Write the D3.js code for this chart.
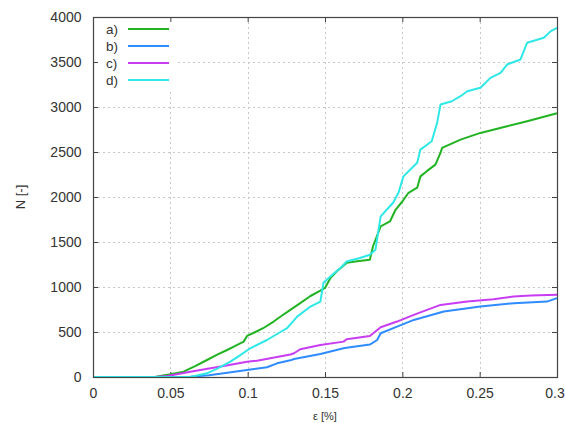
<!DOCTYPE html>
<html><head><meta charset="utf-8">
<script src="https://cdn.jsdelivr.net/npm/d3@7"></script>
<style>body{margin:0;background:#fff}svg{display:block}text{font-family:"Liberation Sans",Arial,sans-serif;fill:#333}</style>
</head><body><svg id="c" width="565" height="423"></svg>
<script>
const xTicks = [0, 0.05, 0.1, 0.15, 0.2, 0.25, 0.3];
const xTickLabels = ["0", "0.05", "0.1", "0.15", "0.2", "0.25", "0.3"];
const yTicks = [0, 500, 1000, 1500, 2000, 2500, 3000, 3500, 4000];
const seriesNames = ["a)", "b)", "c)", "d)"];
const seriesColors = ["#22b322", "#2e8cff", "#c83cf2", "#2ee8e8"];

const epsA = [0, 0.04, 0.0435, 0.05, 0.0586, 0.066, 0.0737, 0.08, 0.0867, 0.092, 0.0974, 0.0996, 0.105, 0.110, 0.1168, 0.122, 0.1276, 0.134, 0.1406, 0.147, 0.150, 0.1535, 0.158, 0.164, 0.172, 0.179, 0.181, 0.186, 0.192, 0.1956, 0.2, 0.204, 0.2096, 0.2117, 0.216, 0.2214, 0.2247, 0.2257, 0.2376, 0.2505, 0.2677, 0.2807, 0.297, 0.3];
const nA = [0, 0, 11, 30, 59, 120, 189, 245, 300, 345, 393, 456, 500, 542, 616, 680, 746, 820, 900, 960, 990, 1100, 1180, 1268, 1290, 1302, 1450, 1673, 1728, 1858, 1950, 2047, 2103, 2229, 2290, 2360, 2493, 2545, 2638, 2712, 2786, 2842, 2916, 2930];

const epsB = [0, 0.05, 0.063, 0.075, 0.0845, 0.0996, 0.1125, 0.119, 0.1276, 0.13, 0.147, 0.162, 0.164, 0.179, 0.1837, 0.186, 0.1966, 0.2074, 0.2268, 0.2505, 0.272, 0.2936, 0.3];
const nB = [0, 0, 3, 20, 41, 78, 108, 152, 185, 200, 255, 319, 325, 360, 411, 486, 560, 634, 727, 783, 820, 838, 876];

const epsC = [0, 0.04, 0.048, 0.063, 0.075, 0.0845, 0.0996, 0.106, 0.1147, 0.1276, 0.13, 0.134, 0.147, 0.162, 0.164, 0.179, 0.186, 0.1966, 0.2074, 0.216, 0.2247, 0.242, 0.259, 0.272, 0.283, 0.3];
const nC = [0, 0, 11, 59, 95, 122, 170, 181, 208, 250, 264, 308, 356, 393, 420, 456, 553, 616, 690, 746, 801, 838, 865, 894, 905, 913];

const epsD = [0, 0.05, 0.063, 0.0737, 0.08, 0.0888, 0.095, 0.1017, 0.1125, 0.1212, 0.1255, 0.132, 0.1406, 0.147, 0.149, 0.1535, 0.161, 0.164, 0.172, 0.179, 0.1826, 0.186, 0.194, 0.1975, 0.2007, 0.2096, 0.2117, 0.219, 0.2225, 0.2247, 0.232, 0.2376, 0.242, 0.2505, 0.257, 0.2635, 0.2677, 0.2764, 0.2807, 0.2915, 0.296, 0.3];
const nD = [0, 0, 0, 41, 90, 170, 240, 319, 411, 500, 542, 671, 783, 838, 1046, 1117, 1228, 1283, 1320, 1358, 1413, 1784, 1936, 2047, 2229, 2380, 2527, 2619, 2826, 3027, 3064, 3120, 3175, 3213, 3324, 3380, 3472, 3528, 3714, 3770, 3843, 3880];

const series = [[epsA, nA], [epsB, nB], [epsC, nC], [epsD, nD]].map((s, i) => ({
  name: seriesNames[i], color: seriesColors[i], pts: s[0].map((x, j) => [x, s[1][j]])
}));

const L = 93, R = 557, T = 17, B = 377;
const svg = d3.select("#c");
const x = d3.scaleLinear().domain([0, 0.3]).range([L, R]);
const y = d3.scaleLinear().domain([0, 4000]).range([B, T]);

// grid
const g = svg.append("g").attr("stroke", "#c8c8c8").attr("stroke-width", 1).attr("stroke-dasharray", "2,3");
g.selectAll("line.gx").data(xTicks.slice(1, -1)).join("line")
  .attr("x1", d => Math.round(x(d)) + 0.5).attr("x2", d => Math.round(x(d)) + 0.5).attr("y1", T).attr("y2", B);
g.selectAll("line.gy").data(yTicks.slice(1, -1)).join("line")
  .attr("y1", d => Math.round(y(d)) + 0.5).attr("y2", d => Math.round(y(d)) + 0.5).attr("x1", L).attr("x2", R);

// legend background
svg.append("rect").attr("x", L + 1).attr("y", T + 1).attr("width", 82).attr("height", 72).attr("fill", "#fff");

// axes
const xa = d3.axisBottom(x).tickValues(xTicks).tickFormat((d, i) => xTickLabels[i]).tickSize(-5).tickPadding(11);
const xt = d3.axisTop(x).tickValues(xTicks).tickFormat("").tickSize(-5);
const ya = d3.axisLeft(y).tickValues(yTicks).tickFormat(d3.format("d")).tickSize(-5).tickPadding(11.5);
const yr = d3.axisRight(y).tickValues(yTicks).tickFormat("").tickSize(-5);
function style(sel) {
  sel.select(".domain").remove();
  sel.selectAll("line").attr("stroke", "#444");
  sel.selectAll("text").attr("font-size", 14).attr("fill", "#444").attr("font-family", "'Liberation Sans', Arial, sans-serif");
}
const xAxisG = svg.append("g").attr("transform", `translate(0,${B})`).call(xa).call(style);
// keep the last label inside the page edge
xAxisG.selectAll(".tick text").filter(d => d === 0.3).attr("dx", -2.5);
svg.append("g").attr("transform", `translate(0,${T})`).call(xt).call(style);
svg.append("g").attr("transform", `translate(${L},0)`).call(ya).call(style);
svg.append("g").attr("transform", `translate(${R},0)`).call(yr).call(style);

// lines
const line = d3.line().x(d => x(d[0])).y(d => y(d[1]));
svg.append("g").selectAll("path").data(series).join("path")
  .attr("d", d => line(d.pts)).attr("fill", "none").attr("stroke", d => d.color)
  .attr("stroke-width", 2).attr("stroke-linejoin", "round");

// border
svg.append("rect").attr("x", L + 0.5).attr("y", T + 0.5).attr("width", R - L).attr("height", B - T)
  .attr("fill", "none").attr("stroke", "#444").attr("stroke-width", 1.2);

// legend
const lg = svg.append("g").selectAll("g").data(series).join("g")
  .attr("transform", (d, i) => `translate(0,${29 + i * 17})`);
lg.append("text").attr("x", 106).attr("y", 5).attr("font-size", 13.5).attr("fill", "#444").text(d => d.name);
lg.append("line").attr("x1", 128).attr("x2", 169).attr("stroke", d => d.color).attr("stroke-width", 2);

// axis labels
svg.append("text").attr("x", (L + R) / 2).attr("y", 420).attr("text-anchor", "middle").attr("font-size", 11).attr("fill", "#444").text("ε [%]");
svg.append("text").attr("transform", `translate(25,${(T + B) / 2}) rotate(-90)`).attr("text-anchor", "middle").attr("font-size", 13).attr("fill", "#444").text("N [-]");
</script></body></html>
